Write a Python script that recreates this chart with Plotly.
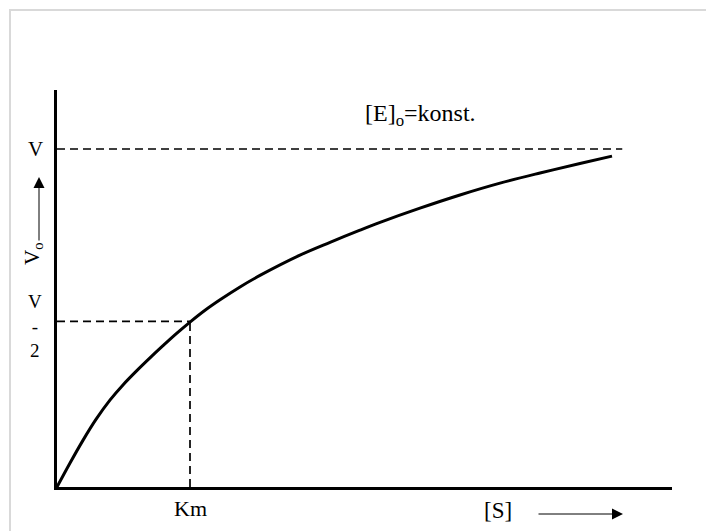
import plotly.graph_objects as go

# ---- data (arbitrary units: Km = 1, Vmax = 1) ----
S_values = [0, 0.098, 0.195, 0.293, 0.398, 0.496, 0.602, 0.699, 0.797, 0.895,
            1.0, 1.113, 1.226, 1.376, 1.526, 1.827, 2.053, 2.278, 2.429, 2.729,
            3.030, 3.331, 3.632, 3.932, 4.173]
v_values = [0, 0.071, 0.138, 0.200, 0.257, 0.302, 0.345, 0.382, 0.418, 0.453,
            0.488, 0.523, 0.554, 0.592, 0.626, 0.686, 0.724, 0.760, 0.783, 0.825,
            0.864, 0.899, 0.929, 0.957, 0.979]
Km = 1.0
Vmax = 1.0
V_half = 0.49
Vmax_line_end = 4.25
x_axis_max = 4.624
y_axis_max = 1.1746

# ---- layout geometry (pixels) ----
W, H = 706, 531
PL, PR, PT, PB = 57, 672, 90, 487
FONT = "Liberation Serif"


def pxx(px):
    return (px - PL) / (PR - PL)


def pxy(py):
    return (PB - py) / (PB - PT)


fig = go.Figure()
fig.add_trace(go.Scatter(x=S_values, y=v_values, mode="lines",
                         line=dict(color="black", width=3, shape="spline", smoothing=1.0),
                         hoverinfo="skip", showlegend=False, cliponaxis=False))

dash = "8px,5px"
shapes = [
    dict(type="line", xref="x", yref="y", x0=0, x1=Vmax_line_end, y0=Vmax, y1=Vmax,
         line=dict(color="black", width=1.7, dash=dash)),
    dict(type="line", xref="x", yref="y", x0=0, x1=Km, y0=V_half, y1=V_half,
         line=dict(color="black", width=1.7, dash=dash)),
    dict(type="line", xref="x", yref="y", x0=Km, x1=Km, y0=0, y1=V_half,
         line=dict(color="black", width=1.7, dash=dash)),
    # outer frame
    dict(type="rect", xref="paper", yref="paper", x0=pxx(10), x1=pxx(740),
         y0=pxy(560), y1=pxy(10), line=dict(color="#d9d9d9", width=2),
         fillcolor="rgba(0,0,0,0)", layer="below"),
]

annotations = [
    dict(text="V", xref="paper", yref="y", x=pxx(35), y=Vmax, showarrow=False,
         font=dict(family=FONT, size=21, color="black"), xanchor="center", yanchor="middle"),
    dict(text="V<br>-<br>2", xref="paper", yref="paper", x=pxx(35), y=pxy(326), showarrow=False,
         font=dict(family=FONT, size=19, color="black"), xanchor="center", yanchor="middle",
         align="center"),
    dict(text="V<sub>o</sub>", xref="paper", yref="paper", x=pxx(33), y=pxy(254), showarrow=False,
         textangle=-90, font=dict(family=FONT, size=21, color="black"),
         xanchor="center", yanchor="middle"),
    dict(text="", xref="paper", yref="paper", x=pxx(39), y=pxy(177), ax=0, ay=65,
         showarrow=True, arrowhead=2, arrowsize=2.2, arrowwidth=1, arrowcolor="black"),
    dict(text="Km", xref="x", yref="paper", x=Km, y=pxy(508), showarrow=False,
         font=dict(family=FONT, size=22, color="black"), xanchor="center", yanchor="middle"),
    dict(text="[S]", xref="paper", yref="paper", x=pxx(498), y=pxy(511), showarrow=False,
         font=dict(family=FONT, size=23, color="black"), xanchor="center", yanchor="middle"),
    dict(text="", xref="paper", yref="paper", x=pxx(623), y=pxy(514), ax=-86, ay=0,
         showarrow=True, arrowhead=2, arrowsize=2.2, arrowwidth=1, arrowcolor="black"),
    dict(text="[E]<sub>o</sub>=konst.", xref="paper", yref="paper", x=pxx(420), y=pxy(115),
         showarrow=False, font=dict(family=FONT, size=24, color="black"),
         xanchor="center", yanchor="middle"),
]

fig.update_layout(
    width=W, height=H,
    margin=dict(l=PL, r=W - PR, t=PT, b=H - PB, pad=0),
    paper_bgcolor="white", plot_bgcolor="white",
    shapes=shapes, annotations=annotations,
    showlegend=False,
    xaxis=dict(range=[0, x_axis_max], showgrid=False, zeroline=False, showticklabels=False,
               ticks="", showline=True, linecolor="black", linewidth=3, automargin=False,
               fixedrange=True),
    yaxis=dict(range=[0, y_axis_max], showgrid=False, zeroline=False, showticklabels=False,
               ticks="", showline=True, linecolor="black", linewidth=3, automargin=False,
               fixedrange=True),
)

fig.write_html("out.html", config={"displayModeBar": False},
               post_script="document.body.style.margin='0';document.body.style.overflow='hidden';")
